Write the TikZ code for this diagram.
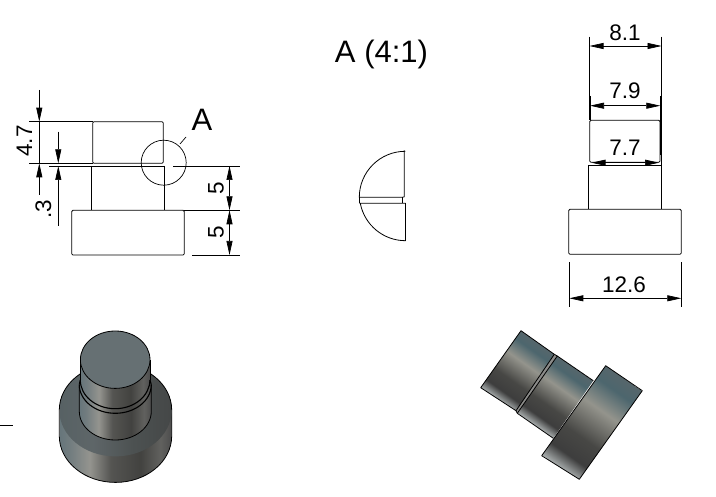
\documentclass[tikz,border=0pt]{standalone}
\usepackage{fontspec}
\usepackage{graphicx}
\setmainfont{Liberation Sans}
\usetikzlibrary{arrows.meta}
\pgfdeclarehorizontalshading{cylshade}{100bp}{
 rgb(0bp)=(0.40,0.46,0.48); rgb(10bp)=(0.45,0.49,0.50); rgb(27bp)=(0.58,0.58,0.56);
 rgb(46bp)=(0.33,0.33,0.32); rgb(72bp)=(0.26,0.26,0.25); rgb(90bp)=(0.38,0.38,0.37); rgb(100bp)=(0.30,0.30,0.30)}
\pgfdeclarehorizontalshading{ringshade}{100bp}{
 rgb(0bp)=(0.34,0.38,0.39); rgb(30bp)=(0.37,0.40,0.41); rgb(65bp)=(0.30,0.32,0.32); rgb(100bp)=(0.27,0.28,0.28)}
\pgfdeclarehorizontalshading{rotshade}{100bp}{
 rgb(0bp)=(0.34,0.40,0.42); rgb(14bp)=(0.30,0.40,0.43); rgb(36bp)=(0.58,0.58,0.55);
 rgb(66bp)=(0.28,0.28,0.27); rgb(86bp)=(0.24,0.24,0.24); rgb(100bp)=(0.66,0.68,0.68)}
\newcommand{\shadebox}[3]{\resizebox{#2pt}{#3pt}{\pgfuseshading{#1}}}
\definecolor{facecol}{rgb}{0.40,0.44,0.45}
\definecolor{grooveCol}{rgb}{0.55,0.55,0.54}
\tikzset{
 every node/.style={inner sep=0pt,outer sep=0pt},
 part/.style={draw=black,line width=0.8pt,line join=round},
 groove/.style={draw=black,line width=1.1pt},
 thin line/.style={draw=black,line width=0.7pt},
 dimline/.style={draw=black,line width=0.7pt},
 both tips/.style={{Triangle[length=14pt,width=6pt]}-{Triangle[length=14pt,width=6pt]}},
 end tip/.style={-{Triangle[length=14pt,width=6pt]}},
 dimtext/.style={font=\fontsize{22.5}{22.5}\selectfont},
 bigtext/.style={font=\fontsize{31}{31}\selectfont},
 fillbox/.style={anchor=center,rotate=#1},
}
\begin{document}
\begin{tikzpicture}[x=1pt,y=1pt]
\useasboundingbox (0,0) rectangle (716,-497);
\fill[white] (0,0) rectangle (716,-497);

% ---------- front view, left
\draw[part,rounded corners=1.2pt] (92.7,-163.3) -- (92.7,-121.7) -- (163.3,-121.7) -- (163.3,-163.3) -- cycle;
\draw[part] (91.7,-166) -- (91.7,-210.3);
\draw[part] (164.3,-166) -- (164.3,-210.3);
\draw[part] (91.7,-166) -- (164.3,-166);
\draw[part,rounded corners=1.2pt] (71.7,-210.3) rectangle (184.3,-255);
% extension lines
\draw[thin line] (29,-121.7) -- (92.7,-121.7);
\draw[thin line] (29,-163.3) -- (92.7,-163.3);
\draw[thin line] (49,-166) -- (91.7,-166);
\draw[thin line] (173,-166) -- (240,-166);
\draw[thin line] (184.3,-210.3) -- (240,-210.3);
\draw[thin line] (192,-255) -- (240,-255);
% dimensions
\draw[dimline] (39.3,-121.7) -- (39.3,-163.3);
\draw[dimline,end tip] (39.3,-90) -- (39.3,-121.7);
\draw[dimline,end tip] (39.3,-195) -- (39.3,-163.3);
\draw[dimline,end tip] (58.3,-131.7) -- (58.3,-163.3);
\draw[dimline,end tip] (58.3,-225.7) -- (58.3,-166);
\draw[dimline,both tips] (229.5,-166) -- (229.5,-210.3);
\draw[dimline,both tips] (229.5,-210.3) -- (229.5,-255);
\node[dimtext,rotate=90] (d47) at (24.5,-141) {4.7};
\node[dimtext,rotate=90] (d03) at (43.5,-209) {.3};
\node[dimtext,rotate=90] (d5a) at (216,-188) {5};
\node[dimtext,rotate=90] (d5b) at (216,-232) {5};
% detail circle
\draw[thin line] (163.7,-162.7) circle (22.5);
\draw[thin line] (180,-144) -- (186,-137);
\node[bigtext] (la) at (202,-120) {A};
% bottom-left tick
\draw[thin line] (0,-425) -- (13,-425);

% ---------- detail
\node[bigtext] (title) at (381.5,-54) {A (4:1)};
\draw[part] (404.3,-150.3) -- (404.3,-196.8) -- (402.3,-197.3) -- (359.3,-197.3)
  arc[start angle=180,end angle=90,radius=46] ;
\draw[part] (405.5,-203.3) -- (405.5,-240.7) arc[start angle=-90,end angle=-169,radius=46] -- (359.8,-203.3) -- cycle;
\draw[part] (359.3,-197.3) -- (359.3,-203.3);
\draw[part] (402.3,-197.3) -- (402.3,-203.3);

% ---------- side view, right
\draw[part,rounded corners=1.2pt] (589.7,-162.3) -- (589.7,-120.3) -- (660,-120.3) -- (660,-162.3) -- cycle;
\draw[part] (588.3,-165) -- (661.7,-165);
\draw[part] (588.3,-165) -- (588.3,-209.3);
\draw[part] (661.7,-165) -- (661.7,-209.3);
\draw[part,rounded corners=1.2pt] (568.7,-209.3) rectangle (681.3,-254.3);
% extension lines
\draw[thin line] (589.5,-36.7) -- (589.5,-120.3);
\draw[thin line] (661.6,-36.7) -- (661.6,-165);
\draw[part] (590,-96) -- (590,-120.3);
\draw[part] (660.3,-96) -- (660.3,-155);
\draw[thin line] (569.3,-262.3) -- (569.3,-307.3);
\draw[thin line] (681.3,-262.3) -- (681.3,-307.3);
% dimensions
\draw[dimline,both tips] (589.5,-46) -- (661.6,-46);
\draw[dimline,both tips] (590,-105.7) -- (660.3,-105.7);
\draw[dimline,both tips] (591.5,-162.7) -- (659,-162.7);
\draw[dimline,both tips] (569.3,-298.3) -- (681.3,-298.3);
\node[dimtext] (d81) at (625,-32.5) {8.1};
\node[dimtext] (d79) at (625,-91) {7.9};
\node[dimtext] (d77) at (625,-147.5) {7.7};
\node[dimtext] (d126) at (624,-285) {12.6};

% ---------- isometric view, lower left
% base outer wall
\begin{scope}
 \clip (59.3,-410) -- (59.3,-436) arc[start angle=180,end angle=360,x radius=56.2,y radius=46.4]
       -- (171.7,-410) arc[start angle=0,end angle=180,x radius=56.2,y radius=46.4] -- cycle;
 \node[fillbox=0] (basewall) at (115.5,-420) {\shadebox{cylshade}{112.4}{130}};
\end{scope}
\draw[part] (59.3,-410) -- (59.3,-436) arc[start angle=180,end angle=360,x radius=56.2,y radius=46.4]
       -- (171.7,-410);
% base top face
\begin{scope}
 \clip (115.5,-410) ellipse[x radius=56.2,y radius=46.4];
 \node[fillbox=0] (basetop) at (115.5,-410) {\shadebox{ringshade}{112.4}{100}};
\end{scope}
\draw[part] (59.3,-410) arc[start angle=180,end angle=0,x radius=56.2,y radius=46.4];
% stem, lower section
\begin{scope}
 \clip (79.3,-384.6) -- (79.3,-411.3) arc[start angle=180,end angle=360,x radius=36,y radius=28.7]
       -- (151.3,-384.6) -- cycle;
 \node[fillbox=0] (stemlow) at (115.3,-412) {\shadebox{cylshade}{72}{70}};
\end{scope}
\draw[part] (79.3,-384.6) -- (79.3,-411.3) arc[start angle=180,end angle=360,x radius=36,y radius=28.7]
       -- (151.3,-384.6);
% stem, upper section
\begin{scope}
 \clip (80.3,-359.7) -- (80.3,-380) arc[start angle=180,end angle=360,x radius=34.8,y radius=28.7]
       -- (150,-359.7) -- cycle;
 \node[fillbox=0] (stemup) at (115.2,-380) {\shadebox{cylshade}{69.7}{70}};
\end{scope}
\draw[part] (80.3,-359.7) -- (80.3,-380);
\draw[part] (150,-380) -- (150,-359.7);
% groove
\draw[groove] (80.3,-380) arc[start angle=180,end angle=360,x radius=34.8,y radius=28.7];
\draw[groove] (79.3,-384.6) arc[start angle=180,end angle=360,x radius=36,y radius=28.7];
\draw[groove] (150,-380) -- (151.3,-384.6);
\draw[groove] (80.3,-380) -- (79.3,-384.6);
% top face
\draw[part,fill=facecol] (115.2,-359.7) ellipse[x radius=34.8,y radius=28.7];

% ---------- isometric view, lower right
\fill[grooveCol] (554.3,-354.3) -- (557.3,-356) -- (517.3,-413.3) -- (516,-410.7) -- cycle;
\begin{scope}
 \clip (521,-330.7) -- (554.3,-354.3) -- (516,-410.7) -- (480.7,-387.7) -- cycle;
 \node[fillbox=-125.3] (seg1) at (518,-371) {\shadebox{rotshade}{70}{90}};
\end{scope}
\draw[part] (521,-330.7) -- (554.3,-354.3) -- (516,-410.7) -- (480.7,-387.7) -- cycle;
\begin{scope}
 \clip (557.3,-356) -- (593.3,-380.7) -- (553.3,-438.3) -- (517.3,-413.3) -- cycle;
 \node[fillbox=-125.3] (seg2) at (555.5,-397) {\shadebox{rotshade}{70}{90}};
\end{scope}
\draw[part] (593.3,-380.7) -- (557.3,-356) -- (517.3,-413.3) -- (553.3,-438.3);
\draw[part] (554.3,-354.3) -- (557.3,-356);
\draw[part] (516,-410.7) -- (517.3,-413.3);
\begin{scope}
 \clip (605.7,-365.7) -- (642.3,-390.7) -- (579.3,-479.3) -- (541.7,-455.7) -- cycle;
 \node[fillbox=-125.3] (flange) at (592,-423) {\shadebox{rotshade}{110}{70}};
\end{scope}
\draw[part] (605.7,-365.7) -- (642.3,-390.7) -- (579.3,-479.3) -- (541.7,-455.7) -- cycle;
\end{tikzpicture}
\end{document}
